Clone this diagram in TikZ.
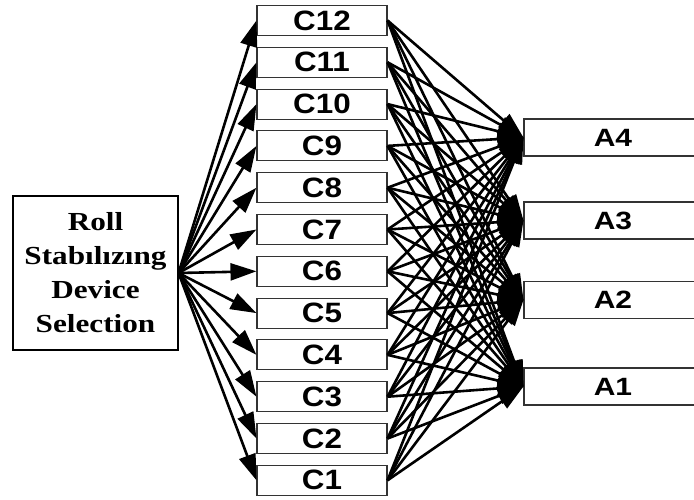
\documentclass[tikz,border=0pt]{standalone}
\usepackage{fontspec}
\newfontfamily\critfont[FakeStretch=1.12]{Liberation Sans}
\newfontfamily\altfont[FakeStretch=1.2]{Liberation Sans}
\newfontfamily\rollfont[FakeStretch=1.2]{Liberation Serif}
\usetikzlibrary{arrows.meta}
\def\NumCriteria{12}
\def\CritX{322}
\def\CritW{130}
\def\CritH{30}
\def\CritStep{41.8}
\def\AltX{613}
\def\AltW{178}
\def\AltH{37}

\begin{document}
\begin{tikzpicture}[x=1pt,y=1pt,
    box/.style={draw=black!80, line width=1.1pt, fill=white, inner sep=0pt},
    critbox/.style={box, minimum width=\CritW pt, minimum height=\CritH pt,
        font=\critfont\bfseries\fontsize{28}{30}\selectfont},
    altbox/.style={box, minimum width=\AltW pt, minimum height=\AltH pt,
        font=\altfont\bfseries\fontsize{25}{30}\selectfont},
    link/.style={line width=2.6pt, -{Triangle[length=26pt,width=17pt]}}
]

% Page frame
\clip (0,0) rectangle (694,499);
\fill[white] (0,0) rectangle (694,499);

% =====================================================
% GOAL
% =====================================================
\node[box, draw=black, minimum width=165pt, minimum height=154pt,
    align=center, font=\rollfont\bfseries\fontsize{26}{34}\selectfont]
    (roll) at (95.5,226) {Roll\\Stabılızıng\\Device\\Selection};

% =====================================================
% CRITERIA
% =====================================================
\foreach \i in {1,...,\NumCriteria} {
    \pgfmathsetmacro{\y}{-23.1 + \i*\CritStep}
    \node[critbox] (c\i) at (\CritX,\y) {C\i};
}

% =====================================================
% ALTERNATIVES
% =====================================================
\foreach \j/\y in {1/112.5,2/199,3/278.5,4/361.5} {
    \node[altbox] (a\j) at (\AltX,\y) {A\j};
}

% =====================================================
% LINKS
% =====================================================
\foreach \i in {1,...,\NumCriteria} {
    \draw[link] (roll.east) -- (c\i.west);
}

\foreach \i in {1,...,\NumCriteria} {
    \foreach \j in {1,...,4} {
        \draw[link] (c\i.east) -- (a\j.west);
    }
}

\end{tikzpicture}
\end{document}
